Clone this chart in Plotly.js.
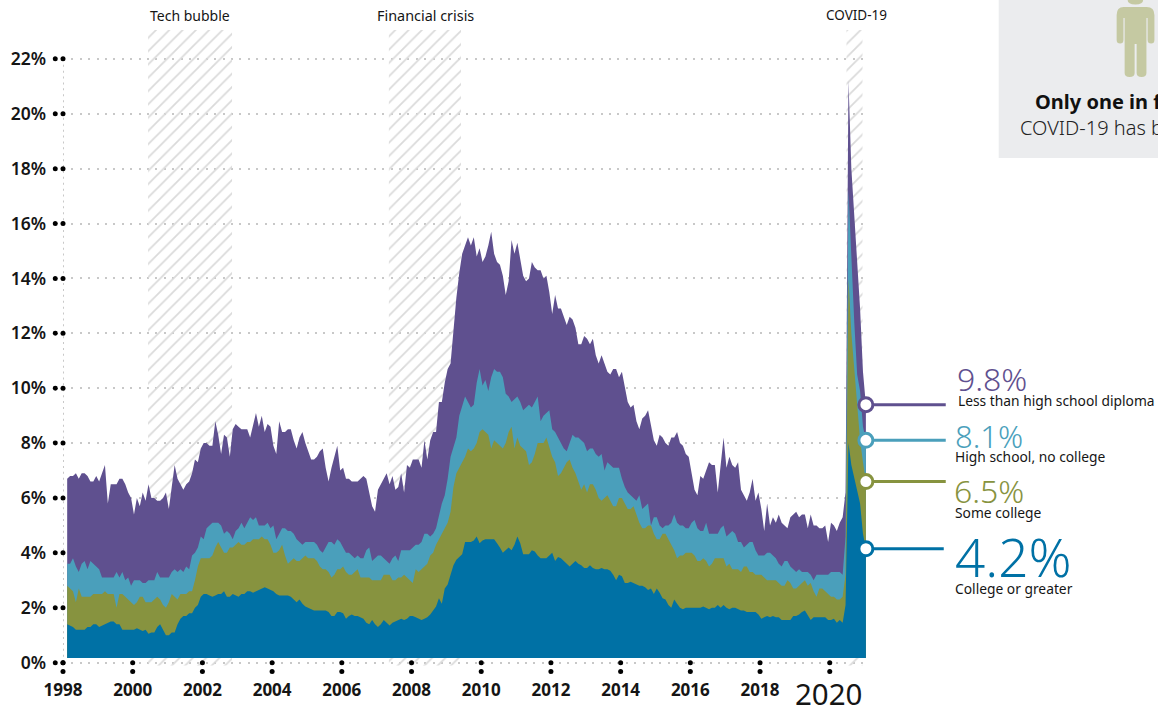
<!DOCTYPE html>
<html>
<head>
<meta charset="utf-8">
<script src="https://cdn.plot.ly/plotly-3.0.1.min.js"></script>
<style>html,body{margin:0;padding:0;background:#fff;overflow:hidden}#chart{width:1158px;height:706px}</style>
</head>
<body>
<div id="chart"></div>
<script>
const firstMonth = 1998.12;
const lessThanHighSchool = [
6.7,6.8,6.8,6.9,6.7,6.9,6.9,6.8,6.6,6.6,6.8,6.6,
6.9,7.2,5.8,6.5,6.5,6.5,6.7,6.7,6.5,6.2,6.0,5.4,
6.0,5.7,6.2,5.9,6.5,6.0,6.0,5.9,5.9,6.0,6.2,5.6,
6.4,7.2,6.7,6.5,6.3,6.5,6.6,6.9,7.4,7.3,7.8,8.0,
8.0,7.9,7.9,8.8,8.3,7.6,8.3,8.2,7.5,8.5,8.7,8.6,
8.5,8.5,8.5,8.2,8.6,9.1,8.6,9.0,8.4,8.7,8.6,7.9,
7.6,8.8,8.4,8.4,8.5,8.5,8.1,7.8,8.2,8.4,8.0,7.7,
7.4,7.4,7.5,7.7,7.8,7.1,6.6,7.1,7.5,7.9,7.0,7.1,
6.7,6.7,6.6,6.6,6.6,6.7,6.8,6.7,6.2,5.7,5.5,6.3,
6.5,6.7,6.9,6.5,6.8,6.3,6.4,6.9,6.2,7.2,7.1,7.4,
7.4,7.4,7.1,8.1,7.4,8.1,8.4,8.4,9.5,9.5,10.2,10.7,
10.9,12.2,13.3,14.2,14.9,15.2,15.5,15.2,15.5,14.8,15.1,14.6,
14.8,15.2,15.7,14.9,14.6,14.5,14.1,13.4,13.9,15.4,14.9,15.3,
14.7,14.1,13.9,14.0,14.6,14.4,14.3,14.3,14.0,14.1,13.5,12.7,
13.4,12.9,12.9,12.6,12.3,12.6,12.5,12.2,11.6,11.6,11.9,11.8,
11.6,11.8,11.2,10.9,11.2,10.9,10.6,10.5,10.7,10.7,10.4,10.6,
10.1,9.5,9.3,9.4,8.8,8.5,8.9,9.0,9.2,8.7,8.1,7.9,
8.3,8.2,8.0,7.9,8.2,8.2,8.4,8.0,7.9,7.6,7.5,6.9,
6.3,6.1,6.8,6.7,7.0,7.3,7.2,7.2,6.2,7.2,8.2,7.1,
7.5,7.2,7.1,7.3,6.3,6.1,5.9,6.2,6.7,5.9,6.2,5.6,
4.8,5.8,5.0,5.3,5.1,5.4,5.1,5.0,4.9,5.3,5.4,5.5,
5.3,5.4,5.4,4.9,5.4,5.0,5.0,4.9,4.9,5.0,4.4,5.1,
5.0,4.8,5.1,5.3,6.2,21.2,18.0,16.2,14.7,12.9,10.6,9.4];
const highSchool = [
3.6,3.6,3.8,3.5,3.3,3.6,3.7,3.4,3.7,3.6,3.5,3.4,
3.1,3.1,3.1,3.1,3.1,3.3,3.1,3.3,3.0,3.1,2.8,3.0,
3.0,3.0,2.9,2.9,3.0,3.0,3.0,3.3,3.1,3.1,3.1,3.1,
3.3,3.4,3.3,3.4,3.3,3.5,3.4,3.9,4.0,4.2,4.6,4.5,
4.9,5.0,5.1,5.1,5.1,5.0,4.7,4.8,4.7,4.5,4.8,4.9,
5.1,4.9,5.1,5.3,5.2,5.3,5.0,5.0,5.0,5.1,4.9,5.0,
4.5,4.7,4.9,4.9,4.8,4.8,4.7,4.5,4.4,4.3,4.4,4.4,
4.4,4.4,4.3,4.1,4.0,4.2,4.4,4.4,4.3,4.5,4.4,4.2,
4.0,4.0,3.9,3.8,3.9,3.8,3.8,4.1,4.2,3.7,3.8,3.9,
3.9,3.8,3.7,3.6,3.8,3.9,3.7,4.1,4.1,4.1,4.1,4.2,
4.3,4.3,4.4,4.7,4.7,4.6,4.7,4.9,5.4,5.8,6.1,6.7,
7.5,7.9,8.2,9.0,9.4,9.7,9.5,9.3,9.4,10.2,10.7,10.1,
10.3,9.9,10.4,10.7,10.6,10.6,10.4,9.8,9.7,9.5,9.6,9.7,
9.5,9.2,9.3,9.4,9.3,9.5,9.7,8.8,9.0,9.1,9.2,8.5,
8.4,8.2,8.0,7.8,7.7,8.0,8.3,8.2,8.2,8.1,8.0,7.7,
7.8,7.8,7.6,7.5,7.6,7.0,7.3,7.2,7.1,7.1,7.1,6.7,
6.4,6.2,6.1,6.0,5.9,6.1,5.6,5.7,5.8,5.0,5.3,5.3,
5.0,4.9,5.0,5.0,5.1,5.4,5.1,5.0,5.0,4.9,4.9,5.1,
5.2,4.9,4.8,4.8,5.1,4.7,4.7,4.7,4.7,4.9,5.0,4.6,
4.7,4.8,4.7,4.4,4.4,4.2,4.3,4.4,4.4,4.1,3.9,3.9,
3.9,4.0,4.0,3.9,3.8,3.6,3.5,3.7,3.7,3.5,3.4,3.3,
3.4,3.3,3.3,3.3,3.2,3.0,3.2,3.2,3.2,3.2,3.2,3.3,
3.3,3.3,3.3,3.2,4.6,17.2,14.5,12.4,10.5,9.9,8.6,8.1];
const someCollege = [
2.8,2.7,2.6,2.2,2.7,2.4,2.4,2.4,2.4,2.5,2.5,2.5,
2.5,2.6,2.5,2.5,2.5,2.0,2.5,2.5,2.4,2.3,2.2,2.1,
2.2,2.4,2.4,2.2,2.2,2.2,2.3,2.4,2.3,2.1,2.0,2.2,
2.5,2.4,2.3,2.5,2.5,2.5,2.6,2.6,3.0,3.5,3.8,3.8,
3.8,3.8,3.9,4.2,4.4,4.2,4.0,4.0,4.2,4.2,4.3,4.4,
4.3,4.3,4.4,4.4,4.5,4.5,4.5,4.6,4.5,4.5,4.3,4.0,
4.0,4.1,4.3,3.9,3.6,3.7,3.8,3.7,3.7,3.8,3.9,3.8,
3.8,3.8,3.7,3.5,3.4,3.4,3.3,3.1,3.2,3.4,3.4,3.5,
3.3,3.2,3.2,3.3,3.4,3.1,3.1,3.1,3.1,3.0,3.0,3.0,
3.0,3.2,3.2,3.2,3.0,3.0,3.1,3.1,3.2,3.1,3.0,2.9,
3.4,3.3,3.4,3.5,3.6,3.9,4.0,4.3,4.5,4.7,4.9,5.1,
5.5,6.4,6.9,7.1,7.3,7.5,7.8,7.7,7.8,8.0,8.4,8.5,
8.4,8.3,7.8,8.1,8.0,7.9,7.8,8.0,8.4,8.6,7.8,8.2,
7.9,7.8,7.7,7.2,7.3,7.6,8.0,8.0,8.0,8.2,7.8,7.5,
7.3,6.8,6.9,7.1,7.3,7.4,7.1,6.9,6.6,6.3,6.5,6.2,
6.5,6.5,6.3,6.0,5.9,6.0,6.1,5.9,5.7,5.7,6.0,6.0,
5.8,5.6,5.6,5.7,5.4,5.1,4.9,4.9,5.0,5.0,4.7,4.5,
4.5,4.7,4.7,4.5,4.3,4.1,3.8,3.9,3.9,4.0,4.0,4.0,
3.9,3.7,3.7,3.8,3.7,3.5,3.6,3.8,3.8,3.8,3.8,3.5,
3.6,3.4,3.4,3.4,3.3,3.5,3.5,3.3,3.3,3.2,3.2,3.2,
3.1,3.0,3.0,3.0,3.0,2.9,2.8,2.8,3.0,2.9,2.7,2.7,
2.8,2.9,3.0,2.8,2.9,2.6,2.4,2.7,2.7,2.6,2.5,2.4,
2.4,2.3,2.3,2.4,3.2,14.0,12.0,10.7,9.3,8.1,7.3,6.6];
const collegeOrGreater = [
1.4,1.35,1.3,1.2,1.2,1.2,1.2,1.3,1.3,1.4,1.4,1.3,
1.35,1.4,1.45,1.5,1.5,1.4,1.4,1.2,1.2,1.2,1.2,1.2,
1.25,1.2,1.15,1.2,1.05,1.1,1.1,1.3,1.4,1.2,1.0,1.0,
1.1,1.1,1.4,1.6,1.7,1.7,1.8,1.8,2.0,2.1,2.4,2.5,
2.5,2.45,2.4,2.45,2.5,2.5,2.6,2.4,2.4,2.5,2.45,2.4,
2.5,2.5,2.6,2.6,2.55,2.6,2.65,2.7,2.75,2.7,2.65,2.6,
2.5,2.45,2.45,2.45,2.45,2.4,2.3,2.2,2.3,2.15,2.05,2.0,
1.95,1.9,1.9,1.9,1.9,1.9,1.85,1.7,1.7,1.85,1.85,1.8,
1.6,1.7,1.75,1.7,1.7,1.65,1.6,1.45,1.4,1.55,1.4,1.3,
1.4,1.55,1.45,1.35,1.45,1.5,1.55,1.6,1.55,1.6,1.7,1.7,
1.65,1.6,1.55,1.6,1.65,1.75,1.9,2.05,2.35,2.15,2.7,2.85,
3.2,3.55,3.75,3.85,3.95,4.4,4.4,4.4,4.45,4.6,4.35,4.45,
4.5,4.5,4.5,4.5,4.35,4.2,4.0,4.1,4.2,4.1,4.3,4.6,
4.35,3.95,3.95,3.95,4.1,4.05,3.9,3.8,3.8,3.8,3.9,4.0,
3.7,3.85,3.8,3.7,3.6,3.5,3.6,3.7,3.6,3.55,3.45,3.45,
3.55,3.45,3.4,3.4,3.45,3.4,3.4,3.35,3.2,3.0,3.2,3.15,
2.9,2.9,2.95,2.9,2.85,2.8,2.8,2.75,2.65,2.7,2.5,2.7,
2.55,2.35,2.3,2.1,2.0,2.3,2.15,2.0,1.95,2.0,2.0,2.0,
2.0,2.0,2.0,2.05,2.0,1.95,2.0,2.0,2.1,2.0,2.1,2.0,
1.95,2.0,2.0,1.95,1.9,1.9,1.85,1.85,1.85,1.85,1.75,1.6,
1.65,1.7,1.65,1.7,1.65,1.65,1.55,1.55,1.55,1.55,1.7,1.7,
1.75,1.85,1.9,1.7,1.55,1.65,1.65,1.65,1.65,1.65,1.55,1.55,
1.6,1.45,1.55,1.45,2.1,8.0,7.2,6.7,6.3,5.8,4.7,4.15];

const seriesNames = ['Less than high school diploma','High school, no college','Some college','College or greater'];
const seriesColors = ['#5f508f','#4a9fbb','#87933f','#0071a5'];
const seriesLabels = ['9.8%','8.1%','6.5%','4.2%'];
const recessionNames = ['Tech bubble','Financial crisis','COVID-19'];
const recessionStart = [2000.44,2007.35,2020.48];
const recessionEnd = [2002.85,2009.42,2020.94];
const yTicks = [0,2,4,6,8,10,12,14,16,18,20,22];
const xTicks = [1998,2000,2002,2004,2006,2008,2010,2012,2014,2016,2018];
const lastTick = 2020;
const seriesData = [lessThanHighSchool,highSchool,someCollege,collegeOrGreater];

const W=1158,H=706,L=62.7,R=866.2,T=30,B=675.36;
const pw=R-L, ph=B-T;
const px=x=>(x-L)/pw, py=y=>(B-y)/ph;
const X=(a,b)=>px(a)+' '+py(b);
const FONT='"Noto Sans", "Open Sans", sans-serif';
const DARK='#151515';
const months=lessThanHighSchool.map((_,i)=>firstMonth+i/12);
const baseLevel=0.17;
const endX=months[months.length-1];

const traces=[];
traces.push({type:'bar',x:recessionStart.map((s,i)=>(s+recessionEnd[i])/2),
  width:recessionStart.map((s,i)=>recessionEnd[i]-s),base:-0.1,
  y:recessionStart.map(()=>23.15),
  marker:{color:'rgba(0,0,0,0)',line:{width:0},pattern:{shape:'/',fgcolor:'#dadada',bgcolor:'rgba(0,0,0,0)',size:9.4,solidity:0.18}},
  hoverinfo:'skip',showlegend:false});
traces.push({type:'scatter',mode:'lines',x:[1998,1998],y:[0,22],
  line:{color:'#c8c8c8',width:2,dash:'2px,3.9px'},hoverinfo:'skip',showlegend:false,cliponaxis:false});
seriesData.forEach((vals,i)=>{
  traces.push({type:'scatter',mode:'lines',name:seriesNames[i],
    x:months.concat([endX,months[0]]),y:vals.concat([baseLevel,baseLevel]),
    fill:'toself',fillcolor:seriesColors[i],line:{width:0,color:seriesColors[i]},
    hoverinfo:'skip',showlegend:false});
});
// tick dots
traces.push({type:'scatter',mode:'markers',x:yTicks.map(()=>1998),
  y:yTicks,marker:{color:'#000',size:5},cliponaxis:false,hoverinfo:'skip',showlegend:false});
const allX=xTicks.concat([lastTick]);
traces.push({type:'scatter',mode:'markers',x:allX.concat(allX),y:allX.map(()=>0).concat(allX.map(()=>-0.32)),
  marker:{color:'#000',size:5},cliponaxis:false,hoverinfo:'skip',showlegend:false});
seriesData.forEach((vals,i)=>{
  traces.push({type:'scatter',mode:'markers',x:[endX],y:[vals[vals.length-1]],
    marker:{color:'#fff',size:14,line:{color:seriesColors[i],width:3}},cliponaxis:false,hoverinfo:'skip',showlegend:false});
});

function note(text,x,y,opts){
  return Object.assign({xref:'paper',yref:'paper',x:px(x),y:py(y),text:text,showarrow:false,
    xanchor:'left',yanchor:'middle',borderpad:0,font:{family:FONT,size:14,color:DARK}},opts||{});
}
const anns=[];
const recCenter=[189.5,425,856.5];
const recSize=[14,14.4,13.5];
recessionNames.forEach((n,i)=>anns.push(note(n,recCenter[i],15,{xanchor:'center',font:{family:FONT,size:recSize[i],color:DARK}})));
anns.push(note(String(lastTick),829.5,693.5,{xanchor:'center',font:{family:FONT,size:29.5,color:DARK}}));
const bigX=[956,954,953,954], bigY=[379,436,491,557], bigS=[32,31,32,53];
const subX=[957,954,954,954], subY=[401,457,513,589];
seriesNames.forEach((n,i)=>{
  anns.push(note(seriesLabels[i],bigX[i],bigY[i],{font:{family:FONT,size:bigS[i],color:seriesColors[i],weight:300}}));
  anns.push(note(n,subX[i],subY[i],{font:{family:FONT,size:13.8,color:DARK}}));
});
anns.push(note('Only one in f',1034,102,{font:{family:FONT,size:20,color:'#111',weight:700}}));
anns.push(note('COVID-19 has b',1019,128,{font:{family:FONT,size:20,color:'#222',weight:300}}));

const personBody='M'+X(1124,7)+' L'+X(1147,7)+' Q'+X(1154.8,7)+' '+X(1154.8,15)+' L'+X(1154.8,40)+' Q'+X(1154.8,43.5)+' '+X(1151.5,43.5)+
 ' Q'+X(1148,43.5)+' '+X(1148,40)+' L'+X(1148,18)+' L'+X(1146.8,18)+' L'+X(1146.8,73)+' Q'+X(1146.8,77)+' '+X(1142,77)+' Q'+X(1137,77)+' '+X(1137,73)+
 ' L'+X(1137,44)+' L'+X(1135,44)+' L'+X(1135,73)+' Q'+X(1135,77)+' '+X(1130,77)+' Q'+X(1125,77)+' '+X(1125,73)+' L'+X(1125,18)+' L'+X(1123.8,18)+
 ' L'+X(1123.8,40)+' Q'+X(1123.8,43.5)+' '+X(1120.5,43.5)+' Q'+X(1117,43.5)+' '+X(1117,40)+' L'+X(1117,15)+' Q'+X(1117,7)+' '+X(1124,7)+' Z';
const personHead='M'+X(1128,0)+' Q'+X(1128,4.5)+' '+X(1135.8,4.5)+' Q'+X(1143.5,4.5)+' '+X(1143.5,0)+' Z';
const shapes=[
 {type:'rect',xref:'paper',yref:'paper',x0:px(999),x1:px(1160),y0:py(158),y1:py(-2),fillcolor:'#ebecee',line:{width:0},layer:'below'},
 {type:'path',xref:'paper',yref:'paper',path:personBody,fillcolor:'#c5c9a2',line:{width:0}},
 {type:'path',xref:'paper',yref:'paper',path:personHead,fillcolor:'#c5c9a2',line:{width:0}}
];
// outer tick dots beside the value labels
const dotR=2.5/27.46;
yTicks.forEach(v=>shapes.push({type:'circle',xref:'paper',yref:'y',x0:px(52.5),x1:px(57.5),y0:v-dotR,y1:v+dotR,fillcolor:'#000',line:{width:0}}));
// connector lines from each end marker to its label
const connectorEndPx=[946,946,946,944];
seriesData.forEach((vals,i)=>{
  const v=vals[vals.length-1];
  shapes.push({type:'line',xref:'paper',yref:'y',x0:px(873),x1:px(connectorEndPx[i]),y0:v,y1:v,line:{color:seriesColors[i],width:3}});
});

const layout={width:W,height:H,margin:{l:L,r:W-R,t:T,b:H-B,pad:0},autosize:false,
  paper_bgcolor:'#fff',plot_bgcolor:'rgba(0,0,0,0)',showlegend:false,barmode:'overlay',
  xaxis:{type:'linear',range:[1998,2021.04],tickmode:'array',tickvals:xTicks,ticktext:xTicks.map(String),
    showgrid:false,zeroline:false,showline:false,ticks:'',ticklabelstandoff:3,
    tickfont:{family:FONT,size:17,color:DARK,weight:700}},
  yaxis:{range:[-0.45,23.052],tickmode:'array',tickvals:yTicks,ticktext:yTicks.map(v=>v+'%'),
    showgrid:true,griddash:'2px,6.4px',gridcolor:'#c8c8c8',gridwidth:2,zeroline:false,showline:false,ticks:'',
    ticklabelstandoff:16,tickfont:{family:FONT,size:17.5,color:DARK,weight:600}},
  annotations:anns,shapes:shapes};
Plotly.newPlot('chart',traces,layout,{displayModeBar:false,staticPlot:true});
</script>
</body>
</html>
